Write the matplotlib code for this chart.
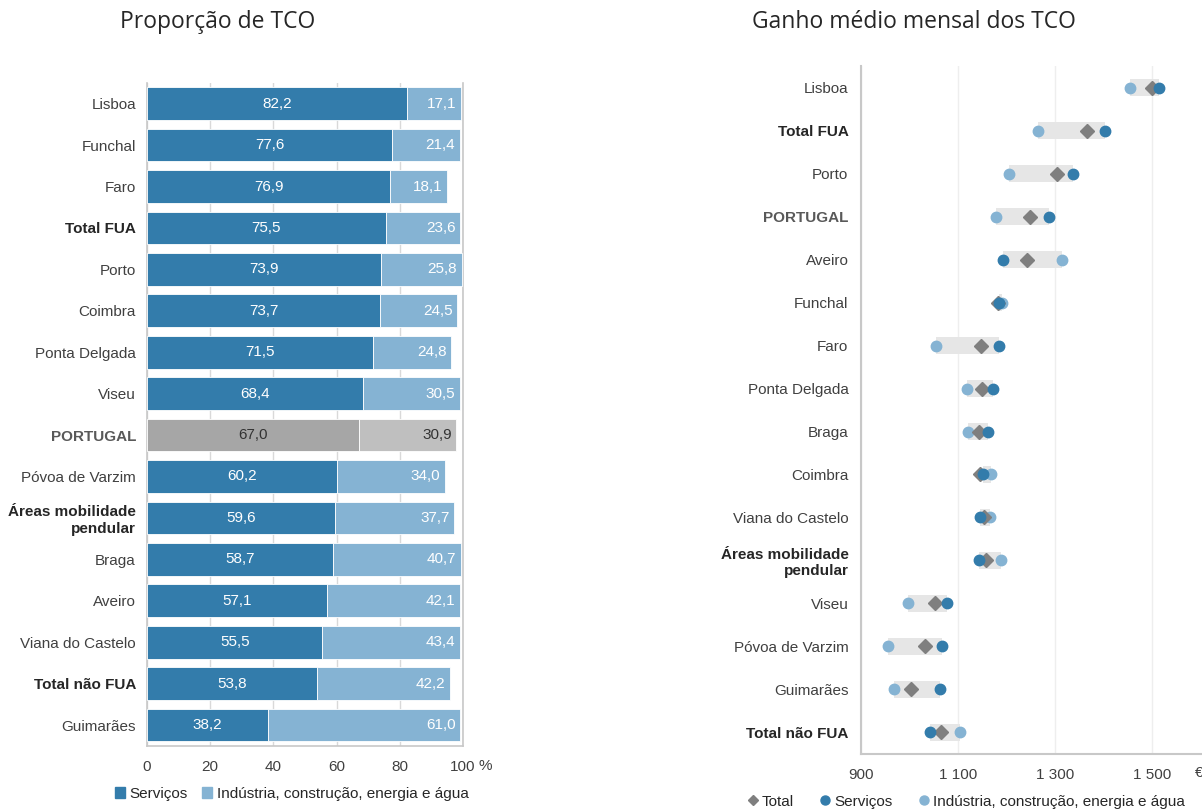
import matplotlib.pyplot as plt
from matplotlib.lines import Line2D
from matplotlib.patches import Patch

plt.rcParams['font.family'] = ['Liberation Sans', 'DejaVu Sans']

# Proporção de TCO por setor (%)
regioes_prop = ['Lisboa', 'Funchal', 'Faro', 'Total FUA', 'Porto', 'Coimbra',
                'Ponta Delgada', 'Viseu', 'PORTUGAL', 'Póvoa de Varzim',
                'Áreas mobilidade\npendular', 'Braga', 'Aveiro', 'Viana do Castelo',
                'Total não FUA', 'Guimarães']
servicos_prop = [82.2, 77.6, 76.9, 75.5, 73.9, 73.7, 71.5, 68.4, 67.0, 60.2,
                 59.6, 58.7, 57.1, 55.5, 53.8, 38.2]
industria_prop = [17.1, 21.4, 18.1, 23.6, 25.8, 24.5, 24.8, 30.5, 30.9, 34.0,
                  37.7, 40.7, 42.1, 43.4, 42.2, 61.0]

# Ganho médio mensal (euros)
regioes_ganho = ['Lisboa', 'Total FUA', 'Porto', 'PORTUGAL', 'Aveiro', 'Funchal',
                 'Faro', 'Ponta Delgada', 'Braga', 'Coimbra', 'Viana do Castelo',
                 'Áreas mobilidade\npendular', 'Viseu', 'Póvoa de Varzim',
                 'Guimarães', 'Total não FUA']
ganho_total = [1500, 1366, 1303, 1247, 1242, 1182, 1147, 1149, 1142, 1145,
               1153, 1158, 1053, 1031, 1002, 1065]
ganho_servicos = [1514, 1402, 1337, 1288, 1192, 1185, 1185, 1171, 1162, 1151,
                  1146, 1143, 1078, 1066, 1062, 1043]
ganho_industria = [1453, 1264, 1205, 1178, 1313, 1191, 1054, 1118, 1120, 1167,
                   1165, 1188, 997, 955, 968, 1103]

destaque = ['Total FUA', 'Áreas mobilidade\npendular', 'Total não FUA']

azul = '#337cab'
azul_claro = '#85b3d3'
cinza_esc = '#a6a6a6'
cinza_cla = '#bfbfbf'
texto = '#404040'
linha = '#c8c8c8'
fs = 11


def formatar_rotulos(ax):
    for lbl in ax.get_yticklabels():
        t = lbl.get_text()
        if t in destaque:
            lbl.set_fontweight('bold')
            lbl.set_color('#262626')
        elif t == 'PORTUGAL':
            lbl.set_fontweight('bold')
            lbl.set_color('#595959')
        lbl.set_multialignment('right')


fig = plt.figure(figsize=(12.02, 8.11), dpi=100)

# ---------- gráfico da esquerda ----------
ax1 = fig.add_axes([0.1223, 0.0805, 0.2629, 0.8172])
n = len(regioes_prop)
ys = list(range(n))
for i in ys:
    portugal = regioes_prop[i] == 'PORTUGAL'
    c1 = cinza_esc if portugal else azul
    c2 = cinza_cla if portugal else azul_claro
    ax1.barh(i, servicos_prop[i], height=0.79, color=c1, edgecolor='white', linewidth=0.6, zorder=3)
    ax1.barh(i, industria_prop[i], left=servicos_prop[i], height=0.79, color=c2,
             edgecolor='white', linewidth=0.6, zorder=3)
    tc = '#333333' if portugal else 'white'
    ax1.text(servicos_prop[i] / 2, i, f'{servicos_prop[i]:.1f}'.replace('.', ','),
             ha='center', va='center', color=tc, fontsize=fs, zorder=4)
    fim = servicos_prop[i] + industria_prop[i]
    ax1.text(fim - 1.5, i, f'{industria_prop[i]:.1f}'.replace('.', ','),
             ha='right', va='center', color=tc, fontsize=fs, zorder=4)

ax1.set_xlim(0, 100)
ax1.set_ylim(n - 0.5, -0.5)
ax1.set_xticks([0, 20, 40, 60, 80, 100])
ax1.set_xticklabels(['0', '20', '40', '60', '80', '100'])
ax1.set_yticks(ys)
ax1.set_yticklabels(regioes_prop)
ax1.tick_params(axis='both', length=0, labelsize=fs, colors=texto)
ax1.tick_params(axis='y', pad=8)
ax1.tick_params(axis='x', pad=10)
formatar_rotulos(ax1)
ax1.grid(axis='x', color='#d9d9d9', linewidth=1, zorder=0)
for s in ['left', 'right', 'bottom']:
    ax1.spines[s].set_color(linha)
    ax1.spines[s].set_linewidth(1.2)
ax1.spines['top'].set_visible(False)
ax1.text(105, -0.03, '%', transform=ax1.get_xaxis_transform(), ha='left', va='center',
         fontsize=fs, color=texto)
fig.text(0.1814, 0.9729, 'Proporção de TCO', fontfamily='Open Sans', fontsize=16.5,
         color='#262626', ha='center', va='center')
ax1.legend(handles=[Patch(color=azul, label='Serviços'),
                    Patch(color=azul_claro, label='Indústria, construção, energia e água')],
           loc='upper center', bbox_to_anchor=(0.458, -0.041), ncol=2, frameon=False,
           fontsize=fs, handlelength=0.7, handleheight=0.7, handletextpad=0.3,
           columnspacing=0.9, labelcolor='#262626')

# ---------- gráfico da direita ----------
ax2 = fig.add_axes([0.7163, 0.0703, 0.2829, 0.8483])
m = len(regioes_ganho)
yr = list(range(m))
for i in yr:
    lo = min(ganho_servicos[i], ganho_industria[i])
    hi = max(ganho_servicos[i], ganho_industria[i])
    ax2.barh(i, hi - lo, left=lo, height=0.4, color='#e6e6e6', zorder=2)
ax2.plot(ganho_industria, yr, 'o', color=azul_claro, markersize=7.5, zorder=3)
ax2.plot(ganho_total, yr, 'D', color='#7f7f7f', markersize=7, zorder=4)
ax2.plot(ganho_servicos, yr, 'o', color=azul, markersize=7.5, zorder=5)

ax2.set_xlim(900, 1600)
ax2.set_ylim(m - 0.5, -0.5)
ax2.set_xticks([900, 1100, 1300, 1500])
ax2.set_xticklabels(['900', '1 100', '1 300', '1 500'])
ax2.set_yticks(yr)
ax2.set_yticklabels(regioes_ganho)
ax2.tick_params(axis='both', length=0, labelsize=fs, colors=texto)
ax2.tick_params(axis='y', pad=9)
ax2.tick_params(axis='x', pad=10)
formatar_rotulos(ax2)
ax2.grid(axis='x', color='#eeeeee', linewidth=1, zorder=0)
for s in ['top', 'right']:
    ax2.spines[s].set_visible(False)
for s in ['left', 'bottom']:
    ax2.spines[s].set_color(linha)
    ax2.spines[s].set_linewidth(1.5)
ax2.text(1588, -0.027, '€', transform=ax2.get_xaxis_transform(), ha='left', va='center',
         fontsize=fs, color=texto)
fig.text(0.7604, 0.9729, 'Ganho médio mensal dos TCO', fontfamily='Open Sans', fontsize=16.5,
         color='#262626', ha='center', va='center')
ax2.legend(handles=[Line2D([], [], marker='D', color='#7f7f7f', linestyle='', markersize=5, label='Total'),
                    Line2D([], [], marker='o', color=azul, linestyle='', markersize=6.5, label='Serviços'),
                    Line2D([], [], marker='o', color=azul_claro, linestyle='', markersize=6.5,
                           label='Indústria, construção, energia e água')],
           loc='upper center', bbox_to_anchor=(0.31, -0.046), ncol=3, frameon=False,
           fontsize=fs, handlelength=0.6, handletextpad=0.25, columnspacing=1.8,
           labelcolor='#262626', borderaxespad=0.2)

fig.savefig('out.png', dpi=100)
